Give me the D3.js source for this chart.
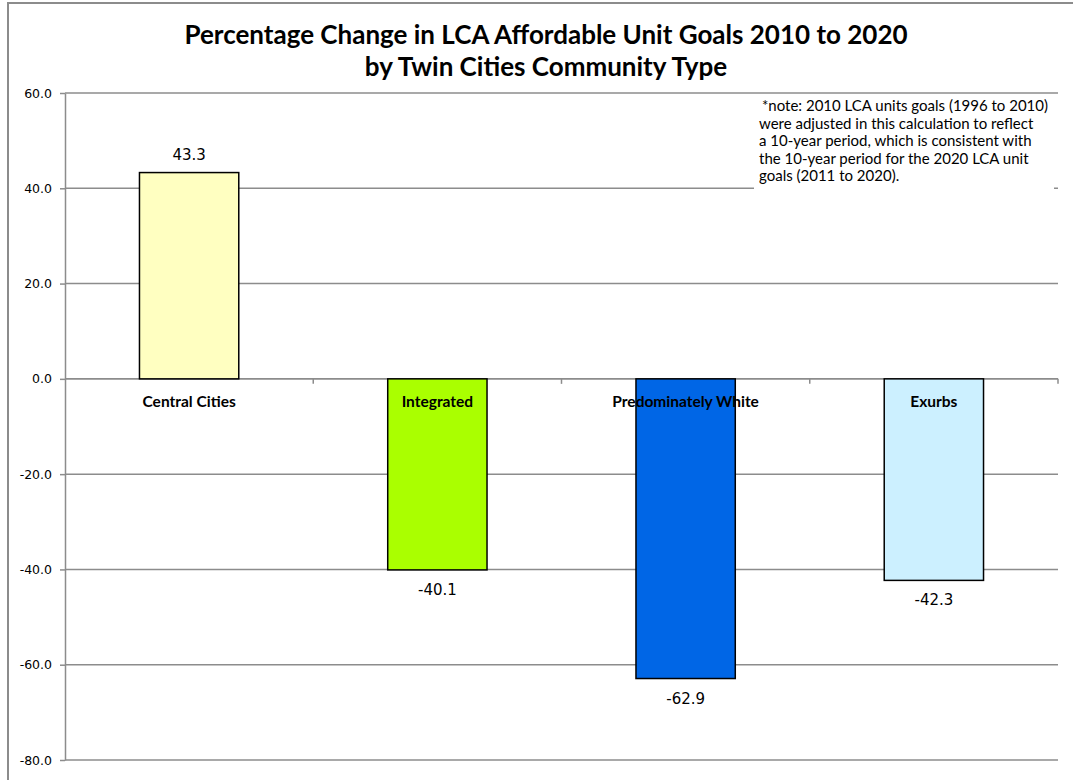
<!DOCTYPE html>
<html>
<head>
<meta charset="utf-8">
<script src="https://cdn.jsdelivr.net/npm/d3@7"></script>
<style>
  body { margin: 0; background: #fff; }
  svg { display: block; }
  .title { font-family: Lato, "Open Sans", sans-serif; font-weight: bold; font-size: 26px; fill: #000; }
  .cat { font-family: Lato, "Open Sans", sans-serif; font-weight: bold; font-size: 15.5px; fill: #000; }
  .note { font-family: Lato, "Open Sans", sans-serif; font-size: 15px; fill: #000; }
  .val { font-family: "DejaVu Sans", Verdana, sans-serif; font-size: 15px; fill: #000; }
  .y.axis text { font-family: "DejaVu Sans", Verdana, sans-serif; font-size: 12.5px; fill: #000; }
</style>
</head>
<body>
<div id="chart"></div>
<script>
// Data
const categories = ["Central Cities", "Integrated", "Predominately White", "Exurbs"]
const values = [43.3, -40.1, -62.9, -42.3]
const yTicks = [60, 40, 20, 0, -20, -40, -60, -80]
const titleLines = [
  "Percentage Change in LCA Affordable Unit Goals 2010 to 2020",
  "by Twin Cities Community Type"
]
const noteLines = [
  "*note: 2010 LCA units goals (1996 to 2010)",
  "were adjusted in this calculation to reflect",
  "a 10-year period, which is consistent with",
  "the 10-year period for the 2020 LCA unit",
  "goals (2011 to 2020)."
]
const barColors = ["#ffffc1", "#aaff00", "#0066e6", "#ccf0ff"]

const W = 1073, H = 780
const gridColor = "#8c8c8c"

// Chart dimensions
const margin = { top: 93, right: 15, bottom: 20, left: 65 }
const width = W - margin.left - margin.right
const height = H - margin.top - margin.bottom

const svg = d3.select("#chart").append("svg")
  .attr("width", W)
  .attr("height", H)

// Outer chart frame (runs past the picture edge)
svg.append("rect")
  .attr("x", 8).attr("y", 3)
  .attr("width", W + 20).attr("height", H + 20)
  .attr("fill", "#fff")
  .attr("stroke", gridColor)
  .attr("stroke-width", 2)

// Title
svg.append("g").attr("class", "titles")
  .selectAll("text")
  .data(titleLines)
  .join("text")
  .attr("class", "title")
  .attr("x", 546)
  .attr("y", (d, i) => 44 + i * 32)
  .attr("text-anchor", "middle")
  .text(d => d)

const g = svg.append("g")
  .attr("transform", `translate(${margin.left},${margin.top})`)

// Scales
const x = d3.scaleBand()
  .domain(categories)
  .range([0, width])
  .paddingInner(0.6)
  .paddingOuter(0.3)

const y = d3.scaleLinear()
  .domain([d3.min(yTicks), d3.max(yTicks)])
  .range([height, 0])

const color = d3.scaleOrdinal().domain(categories).range(barColors)

// Gridlines
g.append("g").attr("class", "grid")
  .selectAll("line")
  .data(yTicks)
  .join("line")
  .attr("x1", 0).attr("x2", width)
  .attr("y1", d => y(d)).attr("y2", d => y(d))
  .attr("stroke", gridColor)
  .attr("stroke-width", 1.5)

// Y axis
const yAxis = g.append("g")
  .attr("class", "y axis")
  .call(d3.axisLeft(y)
    .tickValues(yTicks)
    .tickSize(5)
    .tickSizeOuter(0)
    .tickPadding(8)
    .tickFormat(d => d.toFixed(1)))
yAxis.selectAll(".domain, .tick line").attr("stroke", gridColor).attr("stroke-width", 1.5)

// Category axis at zero with boundary ticks
const step = x.step()
const zero = g.append("g").attr("class", "x axis")
zero.append("line")
  .attr("x1", 0).attr("x2", width)
  .attr("y1", y(0)).attr("y2", y(0))
  .attr("stroke", gridColor)
  .attr("stroke-width", 1.5)
zero.selectAll(".bound")
  .data(categories)
  .join("line")
  .attr("class", "bound")
  .attr("x1", d => x(d) + x.bandwidth() + step * x.paddingOuter())
  .attr("x2", d => x(d) + x.bandwidth() + step * x.paddingOuter())
  .attr("y1", y(0)).attr("y2", y(0) + 5)
  .attr("stroke", gridColor)
  .attr("stroke-width", 1.5)

// Bars
g.append("g").attr("class", "bars")
  .selectAll("rect")
  .data(categories)
  .join("rect")
  .attr("x", d => x(d))
  .attr("y", (d, i) => y(Math.max(0, values[i])))
  .attr("width", x.bandwidth())
  .attr("height", (d, i) => Math.abs(y(values[i]) - y(0)))
  .attr("fill", d => color(d))
  .attr("stroke", "#000")
  .attr("stroke-width", 1.5)

// Value labels
g.append("g").attr("class", "values")
  .selectAll("text")
  .data(categories)
  .join("text")
  .attr("class", "val")
  .attr("x", d => x(d) + x.bandwidth() / 2)
  .attr("y", (d, i) => values[i] >= 0 ? y(values[i]) - 13 : y(values[i]) + 25)
  .attr("text-anchor", "middle")
  .text((d, i) => values[i].toFixed(1))

// Category labels
g.append("g").attr("class", "cats")
  .selectAll("text")
  .data(categories)
  .join("text")
  .attr("class", "cat")
  .attr("x", d => x(d) + x.bandwidth() / 2)
  .attr("y", y(0) + 28)
  .attr("text-anchor", "middle")
  .text(d => d)

// Note box
const note = svg.append("g").attr("class", "note-box")
note.append("rect")
  .attr("x", 754).attr("y", 98)
  .attr("width", 300).attr("height", 106)
  .attr("fill", "#fff")
note.selectAll("text")
  .data(noteLines)
  .join("text")
  .attr("class", "note")
  .attr("x", (d, i) => i === 0 ? 762 : 759)
  .attr("y", (d, i) => 111 + i * 17.6)
  .text(d => d)
</script>
</body>
</html>
